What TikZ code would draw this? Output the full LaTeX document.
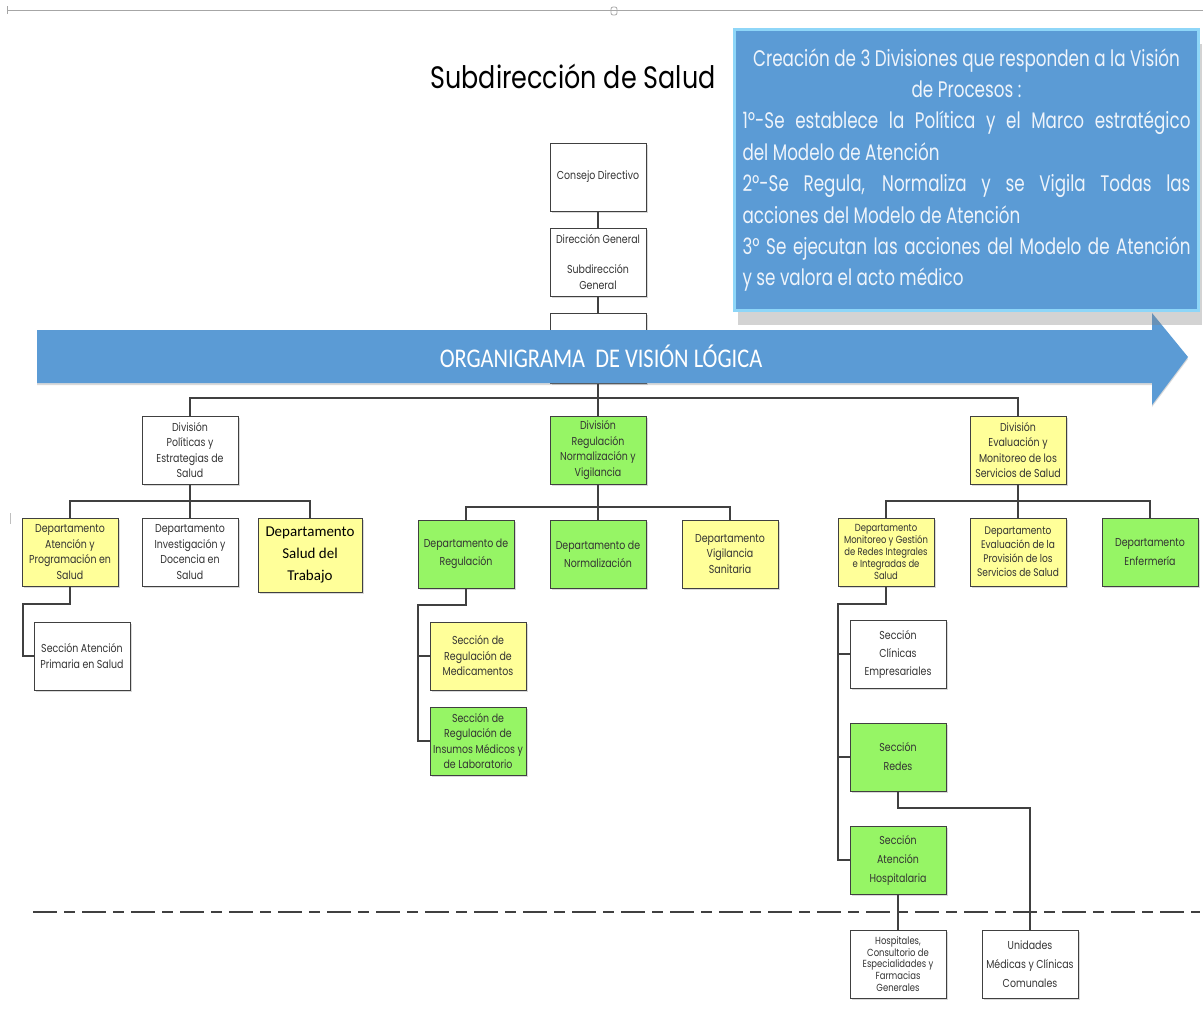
\documentclass[tikz,border=0pt]{standalone}
\usepackage{fontspec}
\usepackage{tikz}
\usetikzlibrary{calc, shadows}

\newfontfamily\gothic[FakeStretch=0.82]{Poppins}
\newfontfamily\gothicn[FakeStretch=0.745]{Poppins}
\newfontfamily\calib{Carlito}
\newfontfamily\calibn[FakeStretch=0.83]{Carlito}

\definecolor{boxline}{HTML}{404040}
\definecolor{boxtext}{HTML}{333333}
\definecolor{grnfill}{HTML}{96F565}
\definecolor{ylwfill}{HTML}{FFFF99}
\definecolor{bannerblue}{HTML}{5B9BD5}
\definecolor{calloutedge}{HTML}{8ED6F8}
\definecolor{callouttext}{HTML}{EEF4FB}

\newcommand{\boxfont}{\gothic\fontsize{11.5}{15.5}\selectfont}
\newcommand{\tinyboxfont}{\gothic\fontsize{10.3}{11.8}\selectfont}

\begin{document}
\begin{tikzpicture}[x=1pt, y=-1pt,
    unit/.style={draw=boxline, line width=1pt, fill=white, minimum width=96pt,
      minimum height=68pt, inner sep=1pt, align=center, text=boxtext,
      font=\boxfont, drop shadow={shadow xshift=1.5pt, shadow yshift=-1.5pt, opacity=0.3}},
    grnbox/.style={unit, fill=grnfill},
    ylwbox/.style={unit, fill=ylwfill},
    link/.style={draw=boxline, line width=1.3pt}]
  \useasboundingbox (0,0) rectangle (1203,1009);

  % ruler at the top
  \draw[gray!70, line width=1pt] (7,10) -- (1203,10);
  \draw[gray!70, line width=1pt] (7,6) -- (7,14);
  \draw[gray!70, line width=0.8pt, rounded corners=2pt] (611,7) rectangle (617,15);
  \draw[gray!50, line width=1pt] (10,513) -- (10,524);

  % title
  \node (title) at (573,76) {\gothic\fontsize{31}{31}\selectfont Subdirección de Salud};

  % top of the chart
  \node[unit] (consejo) at (598,177) {Consejo Directivo};
  \node[unit] (direccion) at (598,262) {Dirección General\\[15pt]Subdirección\\General};
  \node[unit, minimum height=70pt] (sub3) at (598,348) {};
  \draw[link] (consejo) -- (direccion);
  \draw[link] (direccion) -- (sub3);

  % banner arrow
  \path[fill=bannerblue, drop shadow={shadow xshift=0pt, shadow yshift=-2pt, opacity=0.3}]
    (37,330) -- (1152,330) -- (1152,313) -- (1188,357) -- (1152,405) -- (1152,383) -- (37,383) -- cycle;
  \node[text=white] (banner) at (601,356) {\calibn\fontsize{27}{27}\selectfont ORGANIGRAMA\ \ DE VISIÓN LÓGICA};

  % note box
  \node[fill=bannerblue, draw=calloutedge, line width=3pt, minimum width=464pt, minimum height=281pt,
    text width=448pt, align=justify, text=callouttext, inner sep=0pt,
    drop shadow={shadow xshift=3pt, shadow yshift=-14pt, opacity=0.35}] (note) at (966.5,170)
    {\gothicn\fontsize{22.5}{31.4}\selectfont\parindent=0pt\hyphenpenalty=10000
     \hbox to\hsize{\hfil Creación de 3 Divisiones que responden a la Visión\hfil}
     \hbox to\hsize{\hfil de Procesos :\hfil}
     1º-Se establece la Política y el Marco estratégico\linebreak del Modelo de Atención\par
     2º-Se Regula, Normaliza y se Vigila Todas las\linebreak acciones del Modelo de Atención\par
     3º Se ejecutan las acciones del Modelo de Atención\linebreak y se valora el acto médico\par};

  % divisions
  \node[unit] (politicas) at (190,450) {División\\Políticas y\\Estrategias de\\Salud};
  \node[grnbox] (regulacion) at (598,450) {División\\Regulación\\Normalización y\\Vigilancia};
  \node[ylwbox] (evaluacion) at (1018,450) {División\\Evaluación y\\Monitoreo de los\\Servicios de Salud};
  \coordinate (bus1) at (598,398);
  \draw[link] (sub3) -- (regulacion);
  \draw[link] (politicas.north) |- (bus1) -| (evaluacion.north);

  % departments
  \node[ylwbox] (atencion) at (70,552) {Departamento\\Atención y\\Programación en\\Salud};
  \node[unit] (investigacion) at (190,552) {Departamento\\Investigación y\\Docencia en\\Salud};
  \node[ylwbox, minimum width=104pt, minimum height=74pt, font=\calib\fontsize{15}{22}\selectfont,
    text=black] (trabajo) at (310,555) {Departamento\\Salud del\\Trabajo};
  \node[grnbox, font=\gothic\fontsize{11.5}{18}\selectfont] (depreg) at (466,554) {Departamento de\\Regulación};
  \node[grnbox, font=\gothic\fontsize{11.5}{18}\selectfont] (normalizacion) at (598,554) {Departamento de\\Normalización};
  \node[ylwbox] (vigilancia) at (730,554) {Departamento\\Vigilancia\\Sanitaria};
  \node[ylwbox, font=\tinyboxfont] (monitoreo) at (886,552) {Departamento\\Monitoreo y Gestión\\de Redes Integrales\\e Integradas de\\Salud};
  \node[ylwbox, font=\gothic\fontsize{11}{14}\selectfont] (provision) at (1018,552) {Departamento\\Evaluación de la\\Provisión de los\\Servicios de Salud};
  \node[grnbox, font=\gothic\fontsize{11.5}{19}\selectfont] (enfermeria) at (1150,552) {Departamento\\Enfermería};
  \coordinate (busL) at (190,501);
  \coordinate (busM) at (598,507);
  \coordinate (busR) at (1018,501);
  \draw[link] (politicas) -- (investigacion);
  \draw[link] (atencion.north) |- (busL) -| (trabajo.north);
  \draw[link] (regulacion) -- (normalizacion);
  \draw[link] (depreg.north) |- (busM) -| (vigilancia.north);
  \draw[link] (evaluacion) -- (provision);
  \draw[link] (monitoreo.north) |- (busR) -| (enfermeria.north);

  % sections
  \node[unit] (primaria) at (82,656) {Sección Atención\\Primaria en Salud};
  \node[ylwbox] (medicamentos) at (478,656) {Sección de\\Regulación de\\Medicamentos};
  \node[grnbox] (insumos) at (478,741) {Sección de\\Regulación de\\Insumos Médicos y\\de Laboratorio};
  \node[unit, font=\gothic\fontsize{11.5}{18}\selectfont] (clinicas) at (898,654) {Sección\\Clínicas\\Empresariales};
  \node[grnbox, font=\gothic\fontsize{11.5}{19}\selectfont] (redes) at (898,757) {Sección\\Redes};
  \node[grnbox, font=\gothic\fontsize{11.5}{19}\selectfont] (hospitalaria) at (898,860) {Sección\\Atención\\Hospitalaria};
  \coordinate (elbowL) at (23,604);
  \coordinate (elbowM) at (418,605);
  \coordinate (elbowR) at (838,604);
  \draw[link] (atencion.south) |- (elbowL) |- (primaria.west);
  \draw[link] (depreg.south) |- (elbowM) |- (insumos.west);
  \draw[link] (elbowM) |- (medicamentos.west);
  \draw[link] (monitoreo.south) |- (elbowR) |- (hospitalaria.west);
  \draw[link] (elbowR) |- (clinicas.west);
  \draw[link] (elbowR) |- (redes.west);

  % units below the line
  \node[unit, font=\tinyboxfont] (hospitales) at (898,964) {Hospitales,\\Consultorio de\\Especialidades y\\Farmacias\\Generales};
  \node[unit, font=\gothic\fontsize{11.5}{19}\selectfont] (unidades) at (1030,964) {Unidades\\Médicas y Clínicas\\Comunales};
  \coordinate (elbowU) at (898,808);
  \draw[link] (hospitalaria) -- (hospitales);
  \draw[link] (redes.south) -- (elbowU) -| (unidades.north);

  % dashed separator
  \draw[boxline, line width=2pt, dash pattern=on 24pt off 7pt on 11pt off 7pt] (33,912) -- (1200,912);
\end{tikzpicture}
\end{document}
